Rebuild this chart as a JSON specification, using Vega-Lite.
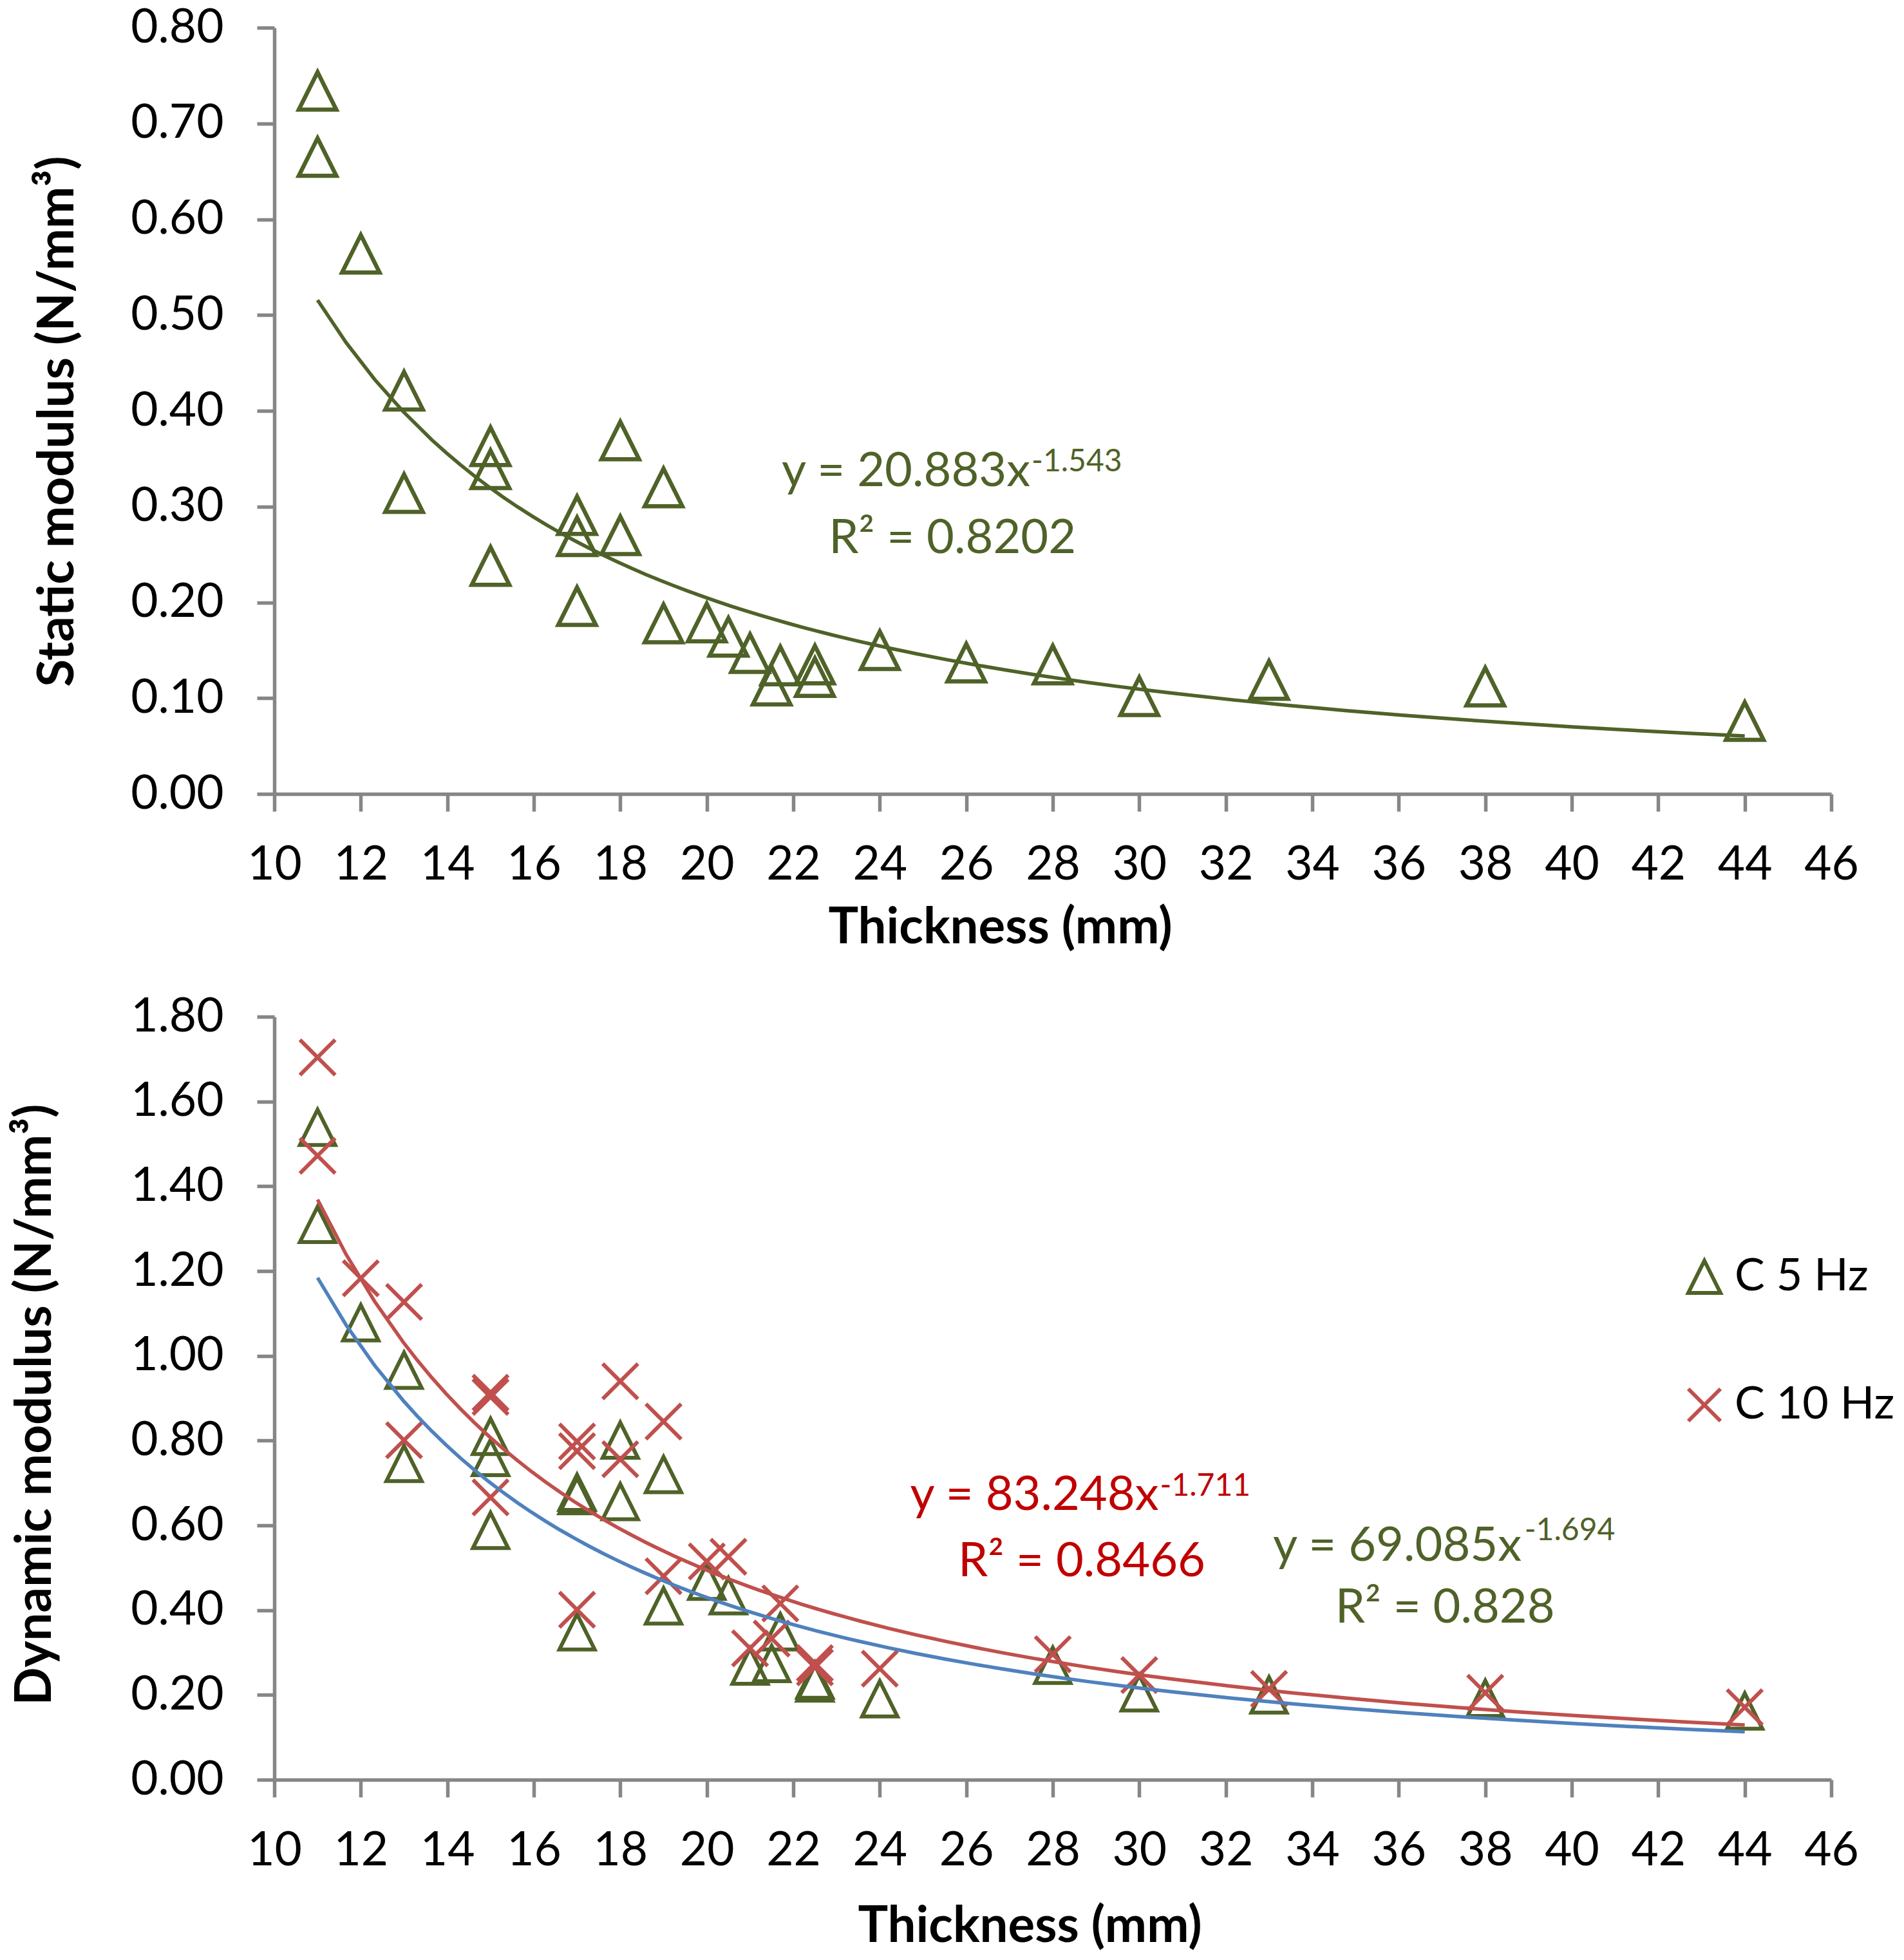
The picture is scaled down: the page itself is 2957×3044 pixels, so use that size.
{
  "$schema": "https://vega.github.io/schema/vega-lite/v6.json",
  "background": "white",
  "padding": {"left": 16, "top": 7, "right": 0, "bottom": 0},
  "spacing": 63,
  "config": {
    "font": "Lato",
    "view": {"stroke": null},
    "axis": {
      "grid": false,
      "domainColor": "#868686",
      "domainWidth": 5.5,
      "tickColor": "#868686",
      "tickWidth": 5.5,
      "tickSize": 27,
      "labelFont": "Lato",
      "labelFontSize": 73,
      "labelColor": "#000000",
      "labelFlush": false,
      "labelOverlap": false,
      "titleFont": "Lato",
      "titleFontSize": 78,
      "titleFontWeight": "bold",
      "titleColor": "#000000",
      "titleBaseline": "middle"
    },
    "axisX": {"labelPadding": 47, "format": "d"},
    "axisY": {"labelPadding": 52},
    "legend": {
      "labelFont": "Lato",
      "labelFontSize": 70,
      "labelColor": "#000000",
      "labelLimit": 0,
      "symbolSize": 2500,
      "symbolStrokeWidth": 6,
      "rowPadding": 125,
      "labelOffset": 12,
      "padding": 0
    }
  },
  "datasets": {
    "static": [
      {"thickness": 11, "modulus": 0.734},
      {"thickness": 11, "modulus": 0.665},
      {"thickness": 12, "modulus": 0.564},
      {"thickness": 13, "modulus": 0.421},
      {"thickness": 13, "modulus": 0.314},
      {"thickness": 15, "modulus": 0.363},
      {"thickness": 15, "modulus": 0.339},
      {"thickness": 15, "modulus": 0.238},
      {"thickness": 17, "modulus": 0.291},
      {"thickness": 17, "modulus": 0.269},
      {"thickness": 17, "modulus": 0.196},
      {"thickness": 18, "modulus": 0.369},
      {"thickness": 18, "modulus": 0.27},
      {"thickness": 19, "modulus": 0.32},
      {"thickness": 19, "modulus": 0.178},
      {"thickness": 20, "modulus": 0.179},
      {"thickness": 20.5, "modulus": 0.164},
      {"thickness": 21, "modulus": 0.147},
      {"thickness": 21.5, "modulus": 0.113},
      {"thickness": 21.7, "modulus": 0.134},
      {"thickness": 22.5, "modulus": 0.135},
      {"thickness": 22.5, "modulus": 0.122},
      {"thickness": 24, "modulus": 0.15},
      {"thickness": 26, "modulus": 0.137},
      {"thickness": 28, "modulus": 0.135},
      {"thickness": 30, "modulus": 0.102},
      {"thickness": 33, "modulus": 0.119},
      {"thickness": 38, "modulus": 0.112},
      {"thickness": 44, "modulus": 0.076}
    ],
    "staticNotes": [
      {"thickness": 27.48, "modulus": 0.3213, "label": "y = 20.883x", "part": "main"},
      {"thickness": 27.51, "modulus": 0.3368, "label": "-1.543", "part": "sup"},
      {"thickness": 25.68, "modulus": 0.2514, "label": "R² = 0.8202", "part": "r2"}
    ],
    "dynamic": [
      {"thickness": 11, "modulus": 1.539, "series": "C 5 Hz"},
      {"thickness": 11, "modulus": 1.31, "series": "C 5 Hz"},
      {"thickness": 12, "modulus": 1.078, "series": "C 5 Hz"},
      {"thickness": 13, "modulus": 0.966, "series": "C 5 Hz"},
      {"thickness": 13, "modulus": 0.746, "series": "C 5 Hz"},
      {"thickness": 15, "modulus": 0.81, "series": "C 5 Hz"},
      {"thickness": 15, "modulus": 0.76, "series": "C 5 Hz"},
      {"thickness": 15, "modulus": 0.588, "series": "C 5 Hz"},
      {"thickness": 17, "modulus": 0.678, "series": "C 5 Hz"},
      {"thickness": 17, "modulus": 0.67, "series": "C 5 Hz"},
      {"thickness": 17, "modulus": 0.349, "series": "C 5 Hz"},
      {"thickness": 18, "modulus": 0.801, "series": "C 5 Hz"},
      {"thickness": 18, "modulus": 0.656, "series": "C 5 Hz"},
      {"thickness": 19, "modulus": 0.72, "series": "C 5 Hz"},
      {"thickness": 19, "modulus": 0.41, "series": "C 5 Hz"},
      {"thickness": 20, "modulus": 0.468, "series": "C 5 Hz"},
      {"thickness": 20.5, "modulus": 0.434, "series": "C 5 Hz"},
      {"thickness": 21, "modulus": 0.268, "series": "C 5 Hz"},
      {"thickness": 21.5, "modulus": 0.274, "series": "C 5 Hz"},
      {"thickness": 21.7, "modulus": 0.349, "series": "C 5 Hz"},
      {"thickness": 22.5, "modulus": 0.235, "series": "C 5 Hz"},
      {"thickness": 22.5, "modulus": 0.228, "series": "C 5 Hz"},
      {"thickness": 24, "modulus": 0.191, "series": "C 5 Hz"},
      {"thickness": 28, "modulus": 0.27, "series": "C 5 Hz"},
      {"thickness": 30, "modulus": 0.205, "series": "C 5 Hz"},
      {"thickness": 33, "modulus": 0.2, "series": "C 5 Hz"},
      {"thickness": 38, "modulus": 0.192, "series": "C 5 Hz"},
      {"thickness": 44, "modulus": 0.162, "series": "C 5 Hz"},
      {"thickness": 11, "modulus": 1.704, "series": "C 10 Hz"},
      {"thickness": 11, "modulus": 1.472, "series": "C 10 Hz"},
      {"thickness": 12, "modulus": 1.183, "series": "C 10 Hz"},
      {"thickness": 13, "modulus": 1.127, "series": "C 10 Hz"},
      {"thickness": 13, "modulus": 0.801, "series": "C 10 Hz"},
      {"thickness": 15, "modulus": 0.913, "series": "C 10 Hz"},
      {"thickness": 15, "modulus": 0.903, "series": "C 10 Hz"},
      {"thickness": 15, "modulus": 0.666, "series": "C 10 Hz"},
      {"thickness": 17, "modulus": 0.798, "series": "C 10 Hz"},
      {"thickness": 17, "modulus": 0.775, "series": "C 10 Hz"},
      {"thickness": 17, "modulus": 0.401, "series": "C 10 Hz"},
      {"thickness": 18, "modulus": 0.94, "series": "C 10 Hz"},
      {"thickness": 18, "modulus": 0.756, "series": "C 10 Hz"},
      {"thickness": 19, "modulus": 0.845, "series": "C 10 Hz"},
      {"thickness": 19, "modulus": 0.48, "series": "C 10 Hz"},
      {"thickness": 20, "modulus": 0.515, "series": "C 10 Hz"},
      {"thickness": 20.5, "modulus": 0.526, "series": "C 10 Hz"},
      {"thickness": 21, "modulus": 0.31, "series": "C 10 Hz"},
      {"thickness": 21.5, "modulus": 0.333, "series": "C 10 Hz"},
      {"thickness": 21.7, "modulus": 0.416, "series": "C 10 Hz"},
      {"thickness": 22.5, "modulus": 0.275, "series": "C 10 Hz"},
      {"thickness": 22.5, "modulus": 0.265, "series": "C 10 Hz"},
      {"thickness": 24, "modulus": 0.262, "series": "C 10 Hz"},
      {"thickness": 28, "modulus": 0.296, "series": "C 10 Hz"},
      {"thickness": 30, "modulus": 0.247, "series": "C 10 Hz"},
      {"thickness": 33, "modulus": 0.214, "series": "C 10 Hz"},
      {"thickness": 38, "modulus": 0.205, "series": "C 10 Hz"},
      {"thickness": 44, "modulus": 0.171, "series": "C 10 Hz"}
    ],
    "dynamicNotes": [
      {"thickness": 30.45, "modulus": 0.6365, "label": "y = 83.248x", "part": "main", "series": "C 10 Hz"},
      {"thickness": 30.48, "modulus": 0.67, "label": "-1.711", "part": "sup", "series": "C 10 Hz"},
      {"thickness": 28.67, "modulus": 0.48, "label": "R² = 0.8466", "part": "r2", "series": "C 10 Hz"},
      {"thickness": 38.84, "modulus": 0.5165, "label": "y = 69.085x", "part": "main", "series": "C 5 Hz"},
      {"thickness": 38.91, "modulus": 0.565, "label": "-1.694", "part": "sup", "series": "C 5 Hz"},
      {"thickness": 37.07, "modulus": 0.3707, "label": "R² = 0.828", "part": "r2", "series": "C 5 Hz"}
    ]
  },
  "vconcat": [
    {
      "width": 2418,
      "height": 1190,
      "layer": [
        {
          "data": {"name": "static"},
          "mark": {"type": "point", "shape": "M0,-1L1,1L-1,1Z", "filled": false, "opacity": 1, "size": 3400, "strokeWidth": 6.5, "color": "#4F6228"},
          "encoding": {
            "x": {
              "field": "thickness",
              "type": "quantitative",
              "scale": {"domain": [10, 46], "nice": false, "zero": false},
              "axis": {"values": [10, 12, 14, 16, 18, 20, 22, 24, 26, 28, 30, 32, 34, 36, 38, 40, 42, 44, 46], "title": "Thickness (mm)", "titleX": 1127, "titleY": 208}
            },
            "y": {
              "field": "modulus",
              "type": "quantitative",
              "scale": {"domain": [0, 0.8], "nice": false},
              "axis": {"values": [0, 0.1, 0.2, 0.3, 0.4, 0.5, 0.6, 0.7, 0.8], "format": ".2f", "title": "Static modulus (N/mm³)", "titleX": -336, "titleY": 611}
            }
          }
        },
        {
          "data": {"name": "static"},
          "transform": [{"regression": "modulus", "on": "thickness", "method": "pow"}],
          "mark": {"type": "line", "color": "#4F6228", "strokeWidth": 5.5},
          "encoding": {
            "x": {"field": "thickness", "type": "quantitative"},
            "y": {"field": "modulus", "type": "quantitative"}
          }
        },
        {
          "data": {"name": "staticNotes"},
          "transform": [{"filter": "datum.part === 'main'"}],
          "mark": {"type": "text", "align": "right", "baseline": "alphabetic", "fontSize": 74, "color": "#4F6228"},
          "encoding": {
            "x": {"field": "thickness", "type": "quantitative"},
            "y": {"field": "modulus", "type": "quantitative"},
            "text": {"field": "label"}
          }
        },
        {
          "data": {"name": "staticNotes"},
          "transform": [{"filter": "datum.part === 'sup'"}],
          "mark": {"type": "text", "align": "left", "baseline": "alphabetic", "fontSize": 48, "color": "#4F6228"},
          "encoding": {
            "x": {"field": "thickness", "type": "quantitative"},
            "y": {"field": "modulus", "type": "quantitative"},
            "text": {"field": "label"}
          }
        },
        {
          "data": {"name": "staticNotes"},
          "transform": [{"filter": "datum.part === 'r2'"}],
          "mark": {"type": "text", "align": "center", "baseline": "alphabetic", "fontSize": 74, "color": "#4F6228"},
          "encoding": {
            "x": {"field": "thickness", "type": "quantitative"},
            "y": {"field": "modulus", "type": "quantitative"},
            "text": {"field": "label"}
          }
        }
      ]
    },
    {
      "width": 2418,
      "height": 1185,
      "layer": [
        {
          "data": {"name": "dynamic"},
          "mark": {"type": "point", "filled": false, "opacity": 1, "size": 3000, "strokeWidth": 6},
          "encoding": {
            "x": {
              "field": "thickness",
              "type": "quantitative",
              "scale": {"domain": [10, 46], "nice": false, "zero": false},
              "axis": {"values": [10, 12, 14, 16, 18, 20, 22, 24, 26, 28, 30, 32, 34, 36, 38, 40, 42, 44, 46], "title": "Thickness (mm)", "titleX": 1173, "titleY": 228}
            },
            "y": {
              "field": "modulus",
              "type": "quantitative",
              "scale": {"domain": [0, 1.8], "nice": false},
              "axis": {"values": [0, 0.2, 0.4, 0.6, 0.8, 1, 1.2, 1.4, 1.6, 1.8], "format": ".2f", "title": "Dynamic modulus (N/mm³)", "titleX": -371, "titleY": 602}
            },
            "color": {
              "field": "series",
              "type": "nominal",
              "scale": {"domain": ["C 5 Hz", "C 10 Hz"], "range": ["#4F6228", "#C0504D"]},
              "legend": {"title": null, "orient": "none", "legendX": 2186, "legendY": 1905}
            },
            "shape": {
              "field": "series",
              "type": "nominal",
              "scale": {"domain": ["C 5 Hz", "C 10 Hz"], "range": ["M0,-1L1,1L-1,1Z", "M-1,-1L1,1M-1,1L1,-1"]},
              "legend": {"title": null, "orient": "none", "legendX": 2186, "legendY": 1905}
            }
          }
        },
        {
          "data": {"name": "dynamic"},
          "transform": [{"regression": "modulus", "on": "thickness", "groupby": ["series"], "method": "pow"}],
          "mark": {"type": "line", "strokeWidth": 5.5},
          "encoding": {
            "x": {"field": "thickness", "type": "quantitative"},
            "y": {"field": "modulus", "type": "quantitative"},
            "detail": {"field": "series"},
            "color": {"condition": {"test": "datum.series === 'C 10 Hz'", "value": "#C0504D"}, "value": "#4F81BD"}
          }
        },
        {
          "data": {"name": "dynamicNotes"},
          "transform": [{"filter": "datum.part === 'main'"}],
          "mark": {"type": "text", "align": "right", "baseline": "alphabetic", "fontSize": 74},
          "encoding": {
            "x": {"field": "thickness", "type": "quantitative"},
            "y": {"field": "modulus", "type": "quantitative"},
            "text": {"field": "label"},
            "color": {"condition": {"test": "datum.series === 'C 10 Hz'", "value": "#C00000"}, "value": "#4F6228"}
          }
        },
        {
          "data": {"name": "dynamicNotes"},
          "transform": [{"filter": "datum.part === 'sup'"}],
          "mark": {"type": "text", "align": "left", "baseline": "alphabetic", "fontSize": 48},
          "encoding": {
            "x": {"field": "thickness", "type": "quantitative"},
            "y": {"field": "modulus", "type": "quantitative"},
            "text": {"field": "label"},
            "color": {"condition": {"test": "datum.series === 'C 10 Hz'", "value": "#C00000"}, "value": "#4F6228"}
          }
        },
        {
          "data": {"name": "dynamicNotes"},
          "transform": [{"filter": "datum.part === 'r2'"}],
          "mark": {"type": "text", "align": "center", "baseline": "alphabetic", "fontSize": 74},
          "encoding": {
            "x": {"field": "thickness", "type": "quantitative"},
            "y": {"field": "modulus", "type": "quantitative"},
            "text": {"field": "label"},
            "color": {"condition": {"test": "datum.series === 'C 10 Hz'", "value": "#C00000"}, "value": "#4F6228"}
          }
        }
      ]
    }
  ]
}
